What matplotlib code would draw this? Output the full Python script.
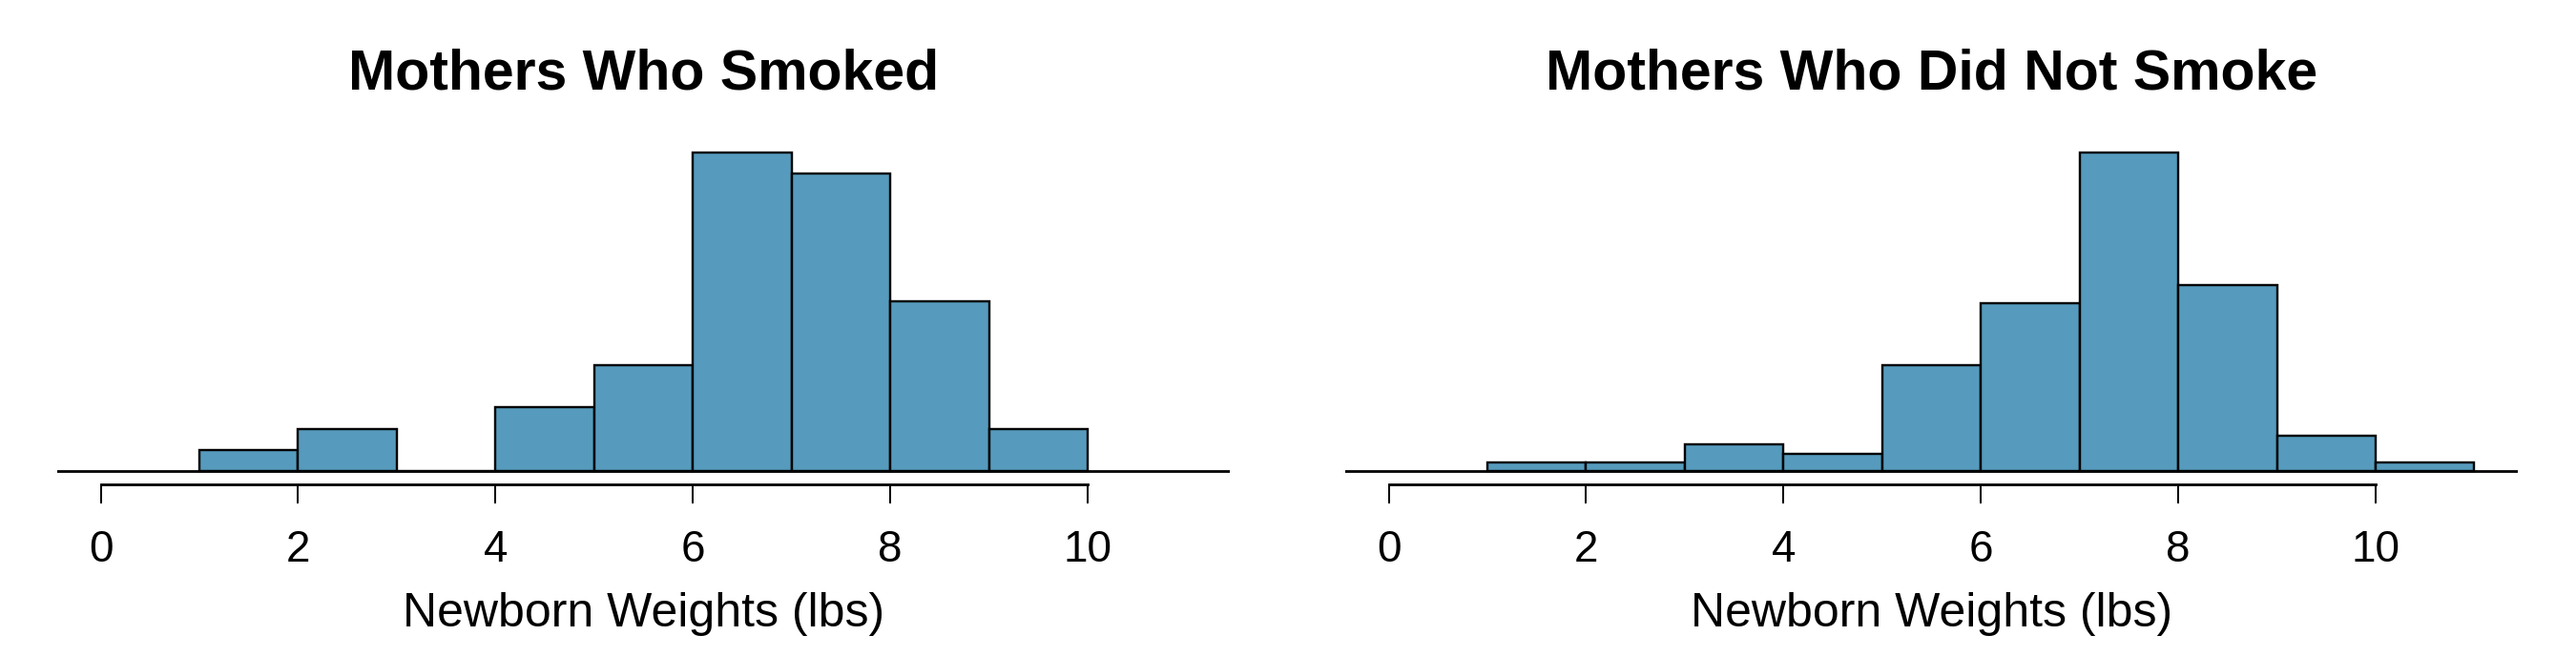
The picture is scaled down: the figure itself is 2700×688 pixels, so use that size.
import matplotlib
matplotlib.use("Agg")
import matplotlib.pyplot as plt

# Data
bin_edges = [1, 2, 3, 4, 5, 6, 7, 8, 9, 10, 11]
smoker_counts = [1, 2, 0, 3, 5, 15, 14, 8, 2]
nonsmoker_counts = [1, 1, 3, 2, 12, 19, 36, 21, 4, 1]
titles = ["Mothers Who Smoked", "Mothers Who Did Not Smoke"]
xlabel = "Newborn Weights (lbs)"
xticks = [0, 2, 4, 6, 8, 10]

plt.rcParams['font.family'] = ['Liberation Sans', 'DejaVu Sans']

W, H, DPI = 27.0, 6.88, 100
fig = plt.figure(figsize=(W, H), dpi=DPI)

bar_color = "#569BBD"
px = 72.0 / DPI  # points per pixel

ax_bottom = 1 - 507.7 / 688
ax_height = 361.1 / 688
ax_lefts = [60 / 2700, 1410 / 2700]
ax_width = 1229 / 2700

for i, (counts, title) in enumerate(zip([smoker_counts, nonsmoker_counts], titles)):
    ax = fig.add_axes([ax_lefts[i], ax_bottom, ax_width, ax_height])
    lefts = bin_edges[:len(counts)]
    ax.bar(lefts, counts, width=1, align='edge', color=bar_color,
           edgecolor='black', linewidth=2.4 * px, zorder=2)
    M = max(counts)
    ax.set_ylim(-0.04 * M, 1.04 * M)
    ax.set_xlim(-0.44, 11.44)
    ax.axhline(0, color='black', linewidth=2.8 * px, zorder=3)
    for s in ['top', 'right', 'left']:
        ax.spines[s].set_visible(False)
    ax.spines['bottom'].set_bounds(0, 10)
    ax.spines['bottom'].set_linewidth(2.8 * px)
    ax.set_yticks([])
    ax.set_xticks(xticks)
    ax.set_xticklabels([str(t) for t in xticks])
    ax.tick_params(axis='x', direction='out', length=20 * px, width=2.0 * px,
                   pad=20, labelsize=33)
    ax.set_xlabel(xlabel, fontsize=36)
    ax.xaxis.label.set_va('baseline')
    ax.xaxis.set_label_coords(0.5, (507.7 - 656.7) / 361.1)
    ax.set_title(title, fontsize=42.5, fontweight='bold',
                 y=(507.7 - 93.3) / 361.1, va='baseline', pad=0)
    ax.patch.set_visible(False)

fig.savefig("out.png", dpi=DPI)
